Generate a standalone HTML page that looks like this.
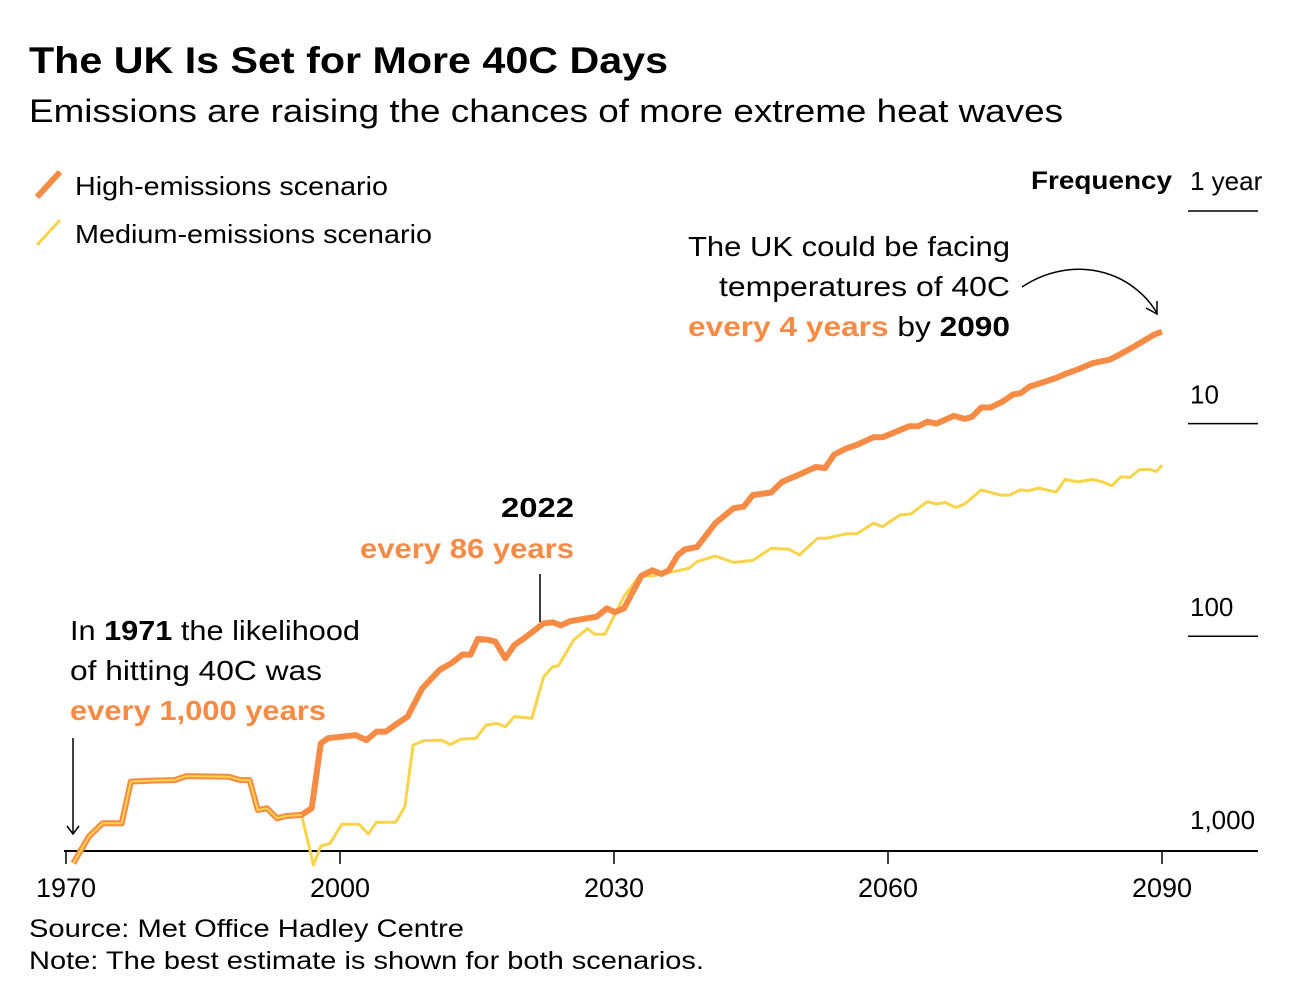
<!DOCTYPE html>
<html><head><meta charset="utf-8"><style>
body{margin:0;background:#fff;width:1296px;height:994px;overflow:hidden;font-family:"Liberation Sans",Arial,sans-serif}
svg text{font-family:"Liberation Sans",Arial,sans-serif}
</style></head><body>
<svg id="chart" width="1296" height="994" xmlns="http://www.w3.org/2000/svg">
<text x="29" y="73" font-size="37" font-weight="bold" fill="#000" textLength="639" lengthAdjust="spacingAndGlyphs">The UK Is Set for More 40C Days</text>
<text x="29" y="122" font-size="32" fill="#000" textLength="1034" lengthAdjust="spacingAndGlyphs">Emissions are raising the chances of more extreme heat waves</text>
<g>
<line x1="37" y1="197" x2="60" y2="172" stroke="#f68b45" stroke-width="6"/>
<text x="75" y="195" font-size="26" textLength="313" lengthAdjust="spacingAndGlyphs">High-emissions scenario</text>
<line x1="37" y1="245" x2="60" y2="220" stroke="#f9d44a" stroke-width="3"/>
<text x="75" y="243" font-size="26" textLength="357" lengthAdjust="spacingAndGlyphs">Medium-emissions scenario</text>
</g>
<text x="1031" y="189" font-size="25" font-weight="bold" textLength="141" lengthAdjust="spacingAndGlyphs">Frequency</text>
<g id="yaxis"></g>
<g id="xaxis"></g>
<g id="series"></g>
<g font-size="28">
<text x="688" y="256" textLength="322" lengthAdjust="spacingAndGlyphs">The UK could be facing</text>
<text x="719" y="296" textLength="291" lengthAdjust="spacingAndGlyphs">temperatures of 40C</text>
<text x="688" y="336" textLength="322" lengthAdjust="spacingAndGlyphs"><tspan fill="#f68b45" font-weight="bold">every 4 years</tspan> by <tspan font-weight="bold">2090</tspan></text>
<path d="M1022 287 C1070 255,1130 268,1157 313" fill="none" stroke="#000" stroke-width="1.5"/>
<path d="M1146 308 L1157 314 L1157 301" fill="none" stroke="#000" stroke-width="1.5"/>
</g>
<g font-size="28" font-weight="bold">
<text x="501" y="517" textLength="73" lengthAdjust="spacingAndGlyphs">2022</text>
<text x="360" y="558" fill="#f68b45" textLength="214" lengthAdjust="spacingAndGlyphs">every 86 years</text>
<line x1="540" y1="574" x2="540" y2="622" stroke="#000" stroke-width="1.5"/>
</g>
<g font-size="28">
<text x="70" y="640" textLength="290" lengthAdjust="spacingAndGlyphs">In <tspan font-weight="bold">1971</tspan> the likelihood</text>
<text x="70" y="680" textLength="252" lengthAdjust="spacingAndGlyphs">of hitting 40C was</text>
<text x="70" y="720" fill="#f68b45" font-weight="bold" textLength="256" lengthAdjust="spacingAndGlyphs">every 1,000 years</text>
<line x1="73" y1="738" x2="73" y2="834" stroke="#000" stroke-width="1.5"/>
<path d="M67 826 L73 834 L79 826" fill="none" stroke="#000" stroke-width="1.5"/>
</g>
<text x="29" y="937" font-size="25" textLength="435" lengthAdjust="spacingAndGlyphs">Source: Met Office Hadley Centre</text>
<text x="29" y="969" font-size="25" textLength="675" lengthAdjust="spacingAndGlyphs">Note: The best estimate is shown for both scenarios.</text>
</svg>
<script>
const highYears=[1970.8,1972.5,1974.0,1976.1,1977.1,1979.4,1981.9,1983.2,1987.8,1989.1,1990.1,1991.0,1992.0,1993.1,1994.1,1995.8,1996.9,1997.9,1998.7,2001.7,2002.9,2004.0,2005.0,2006.3,2007.4,2009.0,2010.9,2012.2,2013.4,2014.3,2015.1,2016.2,2017.0,2018.1,2019.1,2020.2,2022.3,2023.3,2024.2,2025.2,2028.1,2029.2,2030.1,2031.1,2033.0,2034.2,2035.2,2036.0,2037.0,2037.8,2039.1,2041.1,2043.1,2044.2,2045.2,2047.2,2048.4,2050.1,2052.1,2053.1,2054.1,2055.4,2056.6,2058.4,2059.4,2062.3,2063.3,2064.3,2065.3,2067.2,2068.4,2069.2,2070.2,2071.2,2072.5,2073.7,2074.5,2075.5,2078.4,2079.6,2080.6,2082.4,2084.3,2085.5,2087.1,2089.2,2090.0];
const highPeriods=[1170,877,759,759,483,478,475,455,458,475,475,657,645,719,701,693,645,319,302,292,308,281,281,257,239,176,144,134,122,122,103,104,106,127,110,102,87,86,89,85,81,74,77,74,52,49,51,49,41.5,39,38,29.4,25,24.6,21.7,21.1,18.8,17.5,16,16.2,14,13.1,12.6,11.6,11.6,10.3,10.3,9.8,10,9.2,9.5,9.3,8.4,8.4,7.9,7.3,7.2,6.7,6.1,5.8,5.6,5.2,5.0,4.7,4.3,3.8,3.7];
const medYears=[1970.8,1972.5,1974.0,1976.1,1977.1,1979.4,1981.9,1983.2,1987.8,1989.1,1990.1,1991.0,1992.0,1993.1,1994.1,1995.8,1997.1,1997.9,1998.9,2000.2,2002.1,2003.1,2004.0,2006.1,2007.1,2008.0,2009.2,2011.1,2012.1,2013.2,2014.9,2016.0,2017.2,2018.1,2019.1,2021.0,2022.3,2023.3,2023.9,2025.6,2027.1,2027.9,2029.0,2031.1,2032.8,2034.2,2038.2,2039.1,2041.1,2043.1,2045.2,2047.2,2049.2,2050.3,2052.3,2053.3,2055.4,2056.6,2058.4,2059.4,2061.3,2062.5,2064.3,2065.3,2066.3,2067.4,2068.4,2070.2,2072.3,2073.3,2074.5,2075.3,2076.5,2078.4,2079.4,2080.8,2082.4,2083.5,2084.5,2085.5,2086.5,2087.5,2088.6,2089.4,2090.0];
const medPeriods=[1170,877,759,759,483,478,475,455,458,475,475,657,645,719,701,693,1192,970,943,767,767,852,750,750,634,325,310,308,323,305,302,262,257,267,239,243,155,139,138,104,92,98,98,65,52,52,48,44.6,42,45,44,38.6,39,41.5,34.6,34.6,33,33,29.4,30.5,26.9,26.6,23.3,23.9,23.5,24.8,23.9,20.5,21.7,21.7,20.5,20.7,20.1,21,18.3,18.8,18.3,18.8,19.6,17.8,17.9,16.5,16.4,16.8,15.7];
const xTicks=[1970,2000,2030,2060,2090];
const yTicks=[1,10,100,1000];
const yTickLabels=["1 year","10","100","1,000"];

const NS="http://www.w3.org/2000/svg";
function xs(yr){return 66+(yr-1970)*(1162-66)/120;}
function ys(p){return 211+Math.log10(p)*212.6;}
function mk(tag,attrs,parent){const e=document.createElementNS(NS,tag);for(const k in attrs)e.setAttribute(k,attrs[k]);parent.appendChild(e);return e;}
const ya=document.getElementById('yaxis'),xa=document.getElementById('xaxis'),sg=document.getElementById('series');
yTicks.forEach((v,i)=>{
  const y=ys(v);
  if(i<3){const l=mk('line',{x1:1188,x2:1258,y1:y,y2:y,stroke:'#000','stroke-width':1.5},ya);
  
  }
  const t=mk('text',{x:1190,y:(i===0?y-21:y-20),'font-size':26},ya);
  
  
  t.textContent=yTickLabels[i];
});
const base=mk('line',{x1:64,x2:1258,y1:851,y2:851,stroke:'#000','stroke-width':2},xa);


xTicks.forEach(v=>{
  const x=xs(v);
  const l=mk('line',{x1:x,x2:x,y1:851,y2:864,stroke:'#000','stroke-width':1.5},xa);
  
  
  const t=mk('text',{x:x,y:897,'font-size':27,'text-anchor':'middle'},xa);
  
  
  t.textContent=v;
});
function path(yrs,ps){return yrs.map((y,i)=>(i?'L':'M')+xs(y).toFixed(1)+' '+ys(ps[i]).toFixed(1)).join(' ');}
const pm=mk('path',{d:path(medYears,medPeriods),fill:'none',stroke:'#f9d44a','stroke-width':3,'stroke-linejoin':'round'},sg);


const ph=mk('path',{d:path(highYears,highPeriods),fill:'none',stroke:'#f68b45','stroke-width':6,'stroke-linejoin':'round'},sg);


const po=mk('path',{d:path(highYears.slice(0,16),highPeriods.slice(0,16)),fill:'none',stroke:'#f9d44a','stroke-width':2,'stroke-linejoin':'round'},sg);


</script>
</body></html>
